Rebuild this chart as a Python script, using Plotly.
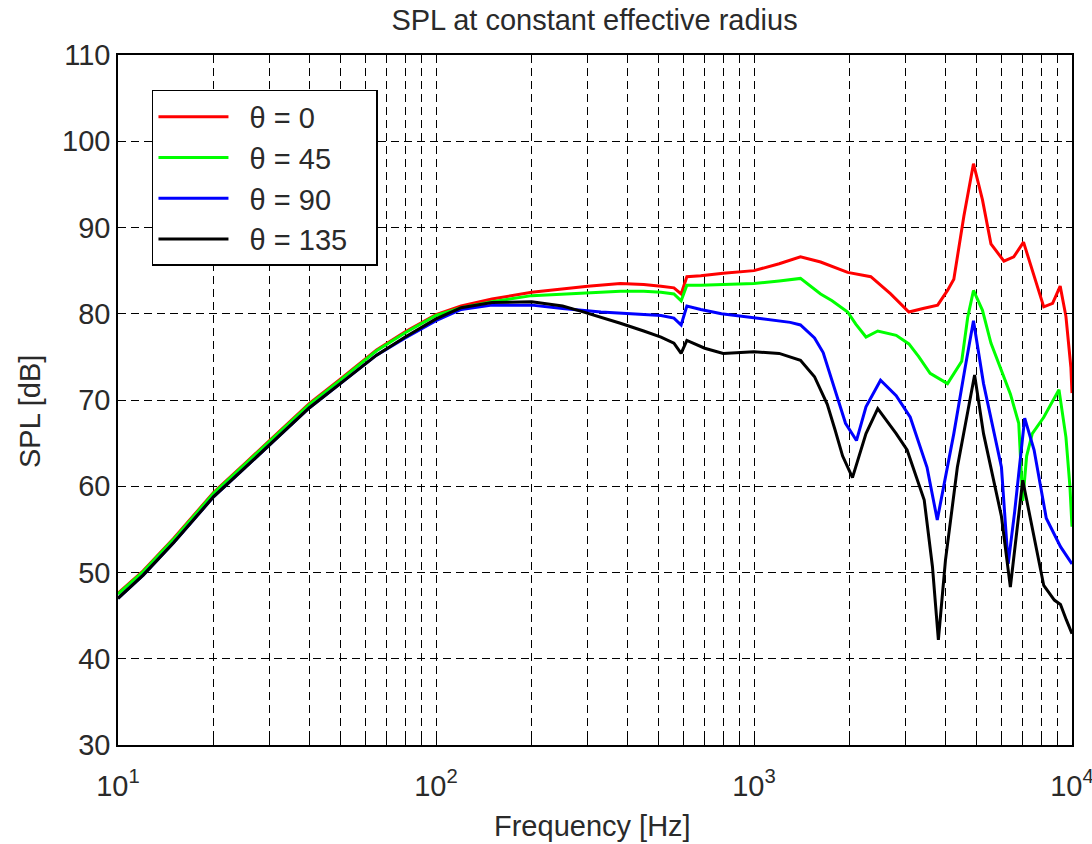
import plotly.graph_objects as go

# ---- data ----
freq_0 = [10, 12, 15, 20, 25, 30, 40, 50, 65, 80, 100, 120, 150, 200, 250, 300, 380, 450, 510, 560, 590, 615, 680, 800, 1000,
          1200, 1400, 1620, 1970, 2330, 2690, 3070, 3400, 3780, 4060, 4250, 4570, 4900, 5230, 5560, 6110, 6560, 7040, 7590,
          8150, 8690, 9180, 9570, 9920, 10000]
spl_0 = [47.6, 50.2, 54.0, 59.3, 62.6, 65.3, 69.6, 72.4, 75.8, 77.9, 79.9, 80.9, 81.7, 82.5, 82.9, 83.2, 83.5, 83.4, 83.2, 83.0,
         82.3, 84.3, 84.4, 84.7, 85.0, 85.8, 86.6, 86.0, 84.8, 84.3, 82.3, 80.2, 80.6, 81.0, 82.7, 84.0, 91.3, 97.4, 93.2, 88.1,
         86.1, 86.6, 88.3, 84.3, 80.8, 81.2, 83.2, 79.7, 73.8, 70.8]

freq_45 = [10, 12, 15, 20, 25, 30, 40, 50, 65, 80, 100, 120, 150, 200, 250, 300, 380, 450, 510, 560, 590, 615, 680, 800, 1000,
           1200, 1400, 1620, 1760, 1970, 2090, 2250, 2450, 2800, 3070, 3300, 3580, 4060, 4500, 4700, 4900, 5230, 5560, 6400,
           6800, 7000, 7200, 7500, 8150, 9100, 9570, 9850, 10000]
spl_45 = [47.5, 50.1, 53.9, 59.2, 62.5, 65.2, 69.5, 72.3, 75.7, 77.8, 79.8, 80.7, 81.4, 82.1, 82.3, 82.4, 82.6, 82.6, 82.5, 82.3,
          81.5, 83.3, 83.3, 83.4, 83.5, 83.8, 84.1, 82.3, 81.5, 80.2, 78.8, 77.3, 78.0, 77.5, 76.5, 75.0, 73.1, 71.9, 74.5, 79.6,
          82.7, 80.4, 76.6, 70.7, 67.3, 58.3, 63.5, 66.1, 68.0, 71.2, 65.7, 60.0, 55.3]

freq_90 = [10, 12, 15, 20, 25, 30, 40, 50, 65, 80, 100, 120, 150, 200, 250, 330, 450, 510, 560, 590, 615, 680, 790, 1000, 1300,
           1400, 1550, 1650, 1800, 1940, 2100, 2250, 2500, 2800, 3100, 3500, 3770, 4000, 4250, 4600, 4900, 5270, 6000, 6300,
           6600, 7100, 7600, 8300, 9200, 10000]
spl_90 = [47.0, 49.7, 53.5, 58.8, 62.1, 64.8, 69.1, 71.9, 75.2, 77.2, 79.2, 80.5, 81.0, 81.0, 80.6, 80.2, 79.9, 79.8, 79.5, 78.7,
          80.9, 80.5, 80.0, 79.5, 79.0, 78.7, 77.2, 75.5, 71.1, 67.3, 65.3, 69.2, 72.3, 70.5, 68.0, 62.2, 56.1, 61.0, 66.1, 73.5,
          79.2, 71.9, 62.2, 51.0, 57.0, 67.9, 64.2, 56.3, 53.0, 51.0]

freq_135 = [10, 12, 15, 20, 25, 30, 40, 50, 65, 80, 100, 120, 150, 200, 250, 285, 330, 380, 450, 510, 560, 590, 615, 700, 800,
            1000, 1200, 1400, 1550, 1700, 1800, 1900, 2040, 2250, 2450, 2800, 3030, 3430, 3640, 3800, 4000, 4360, 4940, 5270,
            6000, 6400, 7000, 7800, 8150, 8800, 9200, 9600, 10000]
spl_135 = [47.0, 49.7, 53.5, 58.8, 62.1, 64.8, 69.1, 71.9, 75.2, 77.3, 79.4, 80.7, 81.3, 81.4, 80.9, 80.3, 79.6, 78.9, 78.0, 77.3,
           76.6, 75.4, 76.9, 76.0, 75.4, 75.6, 75.4, 74.6, 72.7, 69.5, 66.5, 63.5, 61.0, 66.1, 69.0, 66.1, 64.2, 58.4, 50.7, 42.2,
           51.4, 62.2, 72.9, 66.1, 56.5, 48.3, 60.7, 52.2, 48.5, 46.8, 46.3, 44.5, 42.9]

series_names = ["θ = 0", "θ = 45", "θ = 90", "θ = 135"]
series_colors = ["#ff0000", "#00ff00", "#0000ff", "#000000"]

y_ticks = [30, 40, 50, 60, 70, 80, 90, 100, 110]
x_decades = [10, 100, 1000, 10000]
x_decade_labels = ["10<sup>1</sup>", "10<sup>2</sup>", "10<sup>3</sup>", "10<sup>4</sup>"]

# ---- figure ----
FONT = "Liberation Sans, Arial, sans-serif"
TXT = "#2a2a2a"
NB = "\u00a0"
PAD_R = '<span style="color:rgba(0,0,0,0)">_\u00a0</span>'

fig = go.Figure()
for fx, fy, name, col in zip([freq_0, freq_45, freq_90, freq_135], [spl_0, spl_45, spl_90, spl_135],
                             series_names, series_colors):
    fig.add_trace(go.Scatter(x=fx, y=fy, mode="lines", name=NB * 2 + name + PAD_R,
                             line=dict(color=col, width=3)))

# x tick positions: decades + minor multiples (for MATLAB style grid)
x_tickvals, x_ticktext = [], []
for d, lab in zip(x_decades, x_decade_labels):
    x_tickvals.append(d)
    x_ticktext.append(lab)
    if d < 10000:
        for m in range(2, 10):
            x_tickvals.append(d * m)
            x_ticktext.append("")

fig.update_layout(
    width=1092, height=844,
    margin=dict(l=118, r=20, t=55, b=99),
    paper_bgcolor="white", plot_bgcolor="white",
    font=dict(family=FONT, size=29, color=TXT),
    showlegend=True,
    legend=dict(x=0.0356, y=0.9493, xanchor="left", yanchor="top",
                bgcolor="white", bordercolor="black", borderwidth=1.5,
                font=dict(family=FONT, size=29, color=TXT),
                itemwidth=70, tracegroupgap=0),
    title=dict(text="SPL at constant effective radius", x=0.4995, xref="paper",
               y=1 - 20 / 844, yref="container", xanchor="center", yanchor="middle",
               font=dict(family=FONT, size=29, color=TXT)),
)

fig.update_xaxes(type="log", range=[1, 4.00001], tickmode="array", tickvals=x_tickvals, ticktext=x_ticktext,
                 showline=True, linecolor="black", linewidth=1.5, mirror="ticks",
                 ticks="inside", ticklen=6, tickcolor="black", tickwidth=1,
                 showgrid=True, gridcolor="black", gridwidth=1, griddash="8px,5px",
                 zeroline=False, ticklabelstandoff=14, ticklabeloverflow="allow", automargin=False,
                 tickfont=dict(family=FONT, size=29, color=TXT))
fig.update_yaxes(range=[30, 110], tickmode="array", tickvals=y_ticks,
                 showline=True, linecolor="black", linewidth=1.5, mirror="ticks",
                 ticks="inside", ticklen=6, tickcolor="black", tickwidth=1,
                 showgrid=True, gridcolor="black", gridwidth=1, griddash="8px,5px",
                 zeroline=False, automargin=False, tickfont=dict(family=FONT, size=29, color=TXT))

fig.add_annotation(text="Frequency [Hz]", xref="paper", yref="paper", x=0.497, y=(745 - 826) / 690,
                   showarrow=False, xanchor="center", yanchor="middle",
                   font=dict(family=FONT, size=29, color=TXT))
fig.add_annotation(text="SPL [dB]", xref="paper", yref="paper", x=(30 - 118) / 954, y=(745 - 412) / 690,
                   showarrow=False, xanchor="center", yanchor="middle", textangle=-90,
                   font=dict(family=FONT, size=29, color=TXT))

fig.write_html("out.html")
